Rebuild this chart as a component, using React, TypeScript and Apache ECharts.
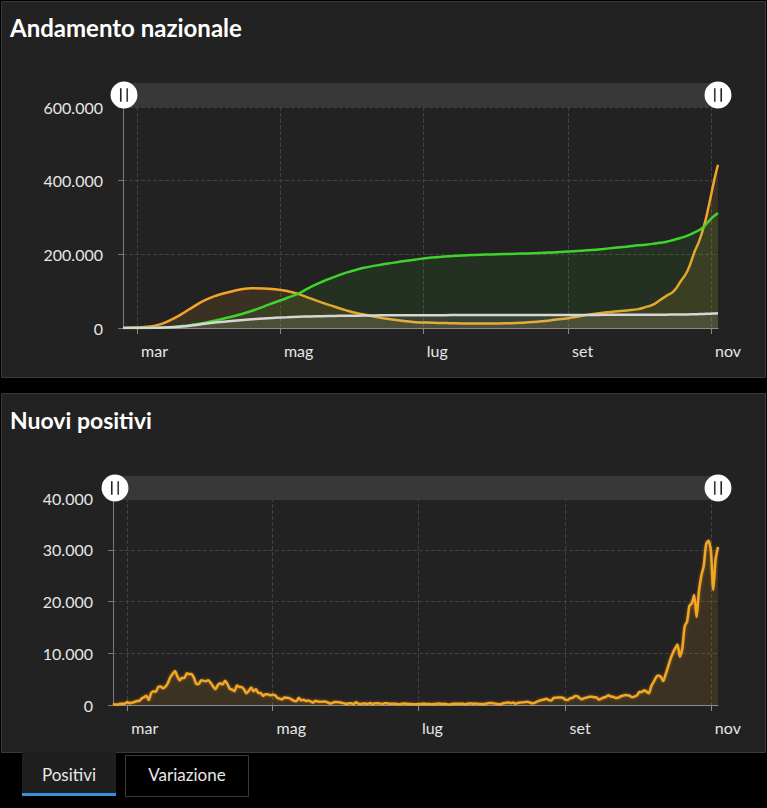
import React, { useEffect, useRef } from 'react';
import * as echarts from 'echarts';

// ---- Data: "Andamento nazionale" (sampled dates) ----
const topDates = [
  '2020-02-24', '2020-02-29', '2020-03-05', '2020-03-10', '2020-03-15', '2020-03-20', '2020-03-25', '2020-03-30',
  '2020-04-04', '2020-04-09', '2020-04-14', '2020-04-19', '2020-04-24', '2020-04-29', '2020-05-04', '2020-05-09',
  '2020-05-14', '2020-05-19', '2020-05-24', '2020-05-29', '2020-06-03', '2020-06-08', '2020-06-13', '2020-06-18',
  '2020-06-23', '2020-06-28', '2020-07-03', '2020-07-08', '2020-07-13', '2020-07-18', '2020-07-23', '2020-07-28',
  '2020-08-02', '2020-08-07', '2020-08-12', '2020-08-17', '2020-08-22', '2020-08-27', '2020-09-01', '2020-09-06',
  '2020-09-11', '2020-09-16', '2020-09-21', '2020-09-26', '2020-10-01', '2020-10-04', '2020-10-07', '2020-10-10',
  '2020-10-13', '2020-10-16', '2020-10-19', '2020-10-22', '2020-10-25', '2020-10-27', '2020-10-29', '2020-10-31',
  '2020-11-02', '2020-11-03', '2020-11-04',
];
const attualmentePositivi = [
  221, 1049, 3296, 8514, 20603, 37860, 57521, 75528,
  88274, 96877, 104291, 107800, 107500, 105000, 100500, 92000,
  80500, 69000, 58500, 48500, 40000, 34200, 28000, 23200,
  18900, 15800, 14600, 13700, 13100, 12500, 12450, 12550,
  12500, 12950, 14081, 16014, 19195, 23035, 26754, 32078,
  37503, 41413, 45079, 47718, 51263, 56731, 62576, 74829,
  87193, 99266, 126237, 155442, 207000, 236684, 276457, 330000,
  390314, 418142, 443235,
];
const dimessiGuariti = [
  1, 50, 414, 1004, 2335, 5129, 9362, 14620,
  20996, 28470, 36500, 46500, 58000, 70000, 81500, 94000,
  111000, 125500, 138000, 149500, 159000, 166000, 171800, 176800,
  181600, 186000, 189800, 192600, 194900, 196800, 198192, 199300,
  200229, 200976, 201947, 203100, 204400, 205800, 207653, 209610,
  211885, 214645, 217716, 220665, 224417, 225986, 228376, 231217,
  234099, 239000, 244500, 251000, 259456, 266203, 275404, 289426,
  302275, 307378, 312339,
];
const deceduti = [
  7, 29, 148, 631, 1809, 4032, 7503, 11591,
  15362, 18279, 21067, 23660, 25969, 27682, 29079, 30395,
  31368, 32169, 32735, 33142, 33530, 33899, 34301, 34514,
  34675, 34738, 34818, 34899, 34967, 35028, 35092, 35112,
  35154, 35190, 35225, 35405, 35430, 35463, 35491, 35541,
  35597, 35658, 35738, 35818, 35918, 35968, 36030, 36111,
  36246, 36427, 36616, 36968, 37338, 37700, 38122, 38618,
  39059, 39412, 39764,
];

// ---- Data: "Nuovi positivi" (daily, from 2020-02-24) ----
const nuoviStart = '2020-02-24';
const nuoviFeb = [221, 93, 78, 250, 238, 240];
const nuoviMar = [566, 342, 466, 587, 769, 778, 1247, 1492, 1797, 977, 2313, 2651, 2547, 3497, 3590, 3233, 3526, 4207, 5322, 5986, 6557, 5560, 4789, 5249, 5210, 6153, 5959, 5974, 5217, 4050, 4053];
const nuoviApr = [4782, 4668, 4585, 4805, 4316, 3599, 3039, 3836, 4204, 3951, 4694, 4092, 3153, 2972, 2667, 3786, 3493, 3491, 3047, 2256, 2729, 3370, 2646, 3021, 2357, 2324, 1739, 2091, 2086, 1872];
const nuoviMag = [1965, 1900, 1389, 1221, 1075, 1444, 1401, 1327, 1083, 802, 744, 1402, 888, 992, 789, 875, 675, 451, 813, 665, 642, 652, 669, 531, 300, 397, 584, 593, 516, 416, 355];
const nuoviGiu = [178, 318, 321, 177, 518, 270, 197, 280, 283, 202, 379, 163, 346, 338, 301, 210, 329, 333, 251, 262, 224, 218, 122, 190, 296, 259, 175, 174, 126, 142];
const nuoviLug = [187, 201, 223, 235, 192, 208, 138, 193, 229, 276, 188, 234, 169, 114, 162, 230, 233, 249, 219, 218, 129, 282, 306, 252, 275, 255, 170, 181, 212, 289, 386];
const nuoviAgo = [379, 295, 239, 159, 190, 384, 402, 552, 347, 463, 259, 412, 481, 523, 574, 629, 479, 320, 403, 642, 845, 947, 1071, 1210, 953, 878, 1367, 1411, 1462, 1444, 1365];
const nuoviSet = [996, 978, 1326, 1397, 1733, 1695, 1297, 1108, 1370, 1434, 1597, 1616, 1501, 1456, 1008, 1229, 1452, 1585, 1907, 1638, 1587, 1350, 1392, 1640, 1786, 1912, 1869, 1766, 1494, 1648];
const nuoviOtt = [1851, 2548, 2499, 2844, 2578, 2257, 3678, 4458, 5372, 5724, 5456, 4619, 5901, 7332, 8804, 10010, 10925, 11705, 9338, 10874, 15199, 16079, 19143, 19644, 21273, 17012, 21994, 24991, 26831, 31084, 31758];
const nuoviNov = [29907, 22253, 28244, 30550];
const nuoviPositivi = [
  ...nuoviFeb, ...nuoviMar, ...nuoviApr, ...nuoviMag, ...nuoviGiu,
  ...nuoviLug, ...nuoviAgo, ...nuoviSet, ...nuoviOtt, ...nuoviNov,
];

// ---- Axis ticks ----
const axisStart = '2020-02-24';
const axisEnd = '2020-11-04';
const tickDates = ['2020-03-01', '2020-05-01', '2020-07-01', '2020-09-01', '2020-11-01'];
const tickLabels = ['mar', 'mag', 'lug', 'set', 'nov'];
const topYMax = 600000;
const topYStep = 200000;
const bottomYMax = 40000;
const bottomYStep = 10000;

function ts(s: string): number {
  const [y, m, d] = s.split('-').map(Number);
  return new Date(y, m - 1, d).getTime();
}
function fmtIt(v: number): string {
  return String(Math.round(v)).replace(/\B(?=(\d{3})+(?!\d))/g, '.');
}

const FONT = 'Lato';
const TXT = '#e6e6e6';
const tickValues = tickDates.map(ts);
function labelFor(v: number): string {
  let best = 0;
  let bd = Infinity;
  tickValues.forEach((t, i) => {
    const d = Math.abs(t - v);
    if (d < bd) { bd = d; best = i; }
  });
  return tickLabels[best];
}

const HANDLE =
  'path://M0,-10A10,10,0,1,1,0,10A10,10,0,1,1,0,-10Z M-3,-5L-3,5L-1.8,5L-1.8,-5Z M1.8,-5L1.8,5L3,5L3,-5Z';

function xAxis(gridIndex: number) {
  return {
    type: 'value',
    gridIndex,
    min: ts(axisStart),
    max: ts(axisEnd),
    axisLine: { show: true, onZero: false, lineStyle: { color: '#8a8a8a', width: 1 } },
    axisTick: { show: true, customValues: tickValues, length: 6, lineStyle: { color: '#8a8a8a' } },
    axisLabel: {
      customValues: tickValues,
      formatter: (v: number) => labelFor(v),
      color: TXT,
      fontSize: 16,
      fontFamily: FONT,
      align: 'left',
      padding: [0, 0, 0, 4],
      margin: 14,
    },
    splitLine: { show: true, lineStyle: { color: '#414141', type: 'dashed', width: 1 } },
  };
}
function yAxis(gridIndex: number, max: number, step: number) {
  return {
    type: 'value',
    gridIndex,
    min: 0,
    max,
    interval: step,
    axisLine: { show: true, lineStyle: { color: '#7a7a7a' } },
    axisTick: { show: true, length: 5, lineStyle: { color: '#7a7a7a' } },
    axisLabel: { formatter: (v: number) => fmtIt(v), color: TXT, fontSize: 16, fontFamily: FONT, margin: 20 },
    splitLine: { show: true, lineStyle: { color: '#414141', type: 'dashed', width: 1 } },
  };
}
function slider(xAxisIndex: number, left: number, top: number, width: number) {
  return {
    type: 'slider',
    xAxisIndex,
    left,
    top,
    width,
    height: 24,
    start: 0,
    end: 100,
    showDetail: false,
    showDataShadow: false,
    brushSelect: false,
    moveHandleSize: 0,
    backgroundColor: '#323232',
    fillerColor: 'rgba(255,255,255,0.03)',
    borderColor: 'transparent',
    handleIcon: HANDLE,
    handleSize: '112%',
    handleStyle: { color: '#ffffff', borderColor: '#ffffff', borderWidth: 0 },
    dataBackground: { lineStyle: { opacity: 0 }, areaStyle: { opacity: 0 } },
  };
}

export default function App() {
  const ref = useRef<HTMLDivElement>(null);
  useEffect(() => {
    if (!ref.current) return;
    const chart = echarts.init(ref.current, null, { renderer: 'svg' });
    const start = new Date(ts(nuoviStart));
    const dailyData = nuoviPositivi.map((v, i) => [
      new Date(start.getFullYear(), start.getMonth(), start.getDate() + i).getTime(),
      v,
    ]);
    const topSeries = (vals: number[], line: string, fill: string, z: number) => ({
      type: 'line',
      xAxisIndex: 0,
      yAxisIndex: 0,
      data: topDates.map((d, i) => [ts(d), vals[i]]),
      smooth: 0.5,
      showSymbol: false,
      z,
      lineStyle: { color: line, width: 2.5 },
      areaStyle: { color: fill },
    });
    chart.setOption({
      animation: false,
      backgroundColor: '#000000',
      graphic: [
        { type: 'rect', z: -10, shape: { x: 1.5, y: 1.5, width: 764, height: 376 }, style: { fill: '#222222', stroke: '#3a3a3a', lineWidth: 1 } },
        { type: 'rect', z: -10, shape: { x: 1.5, y: 393.5, width: 764, height: 359 }, style: { fill: '#222222', stroke: '#3a3a3a', lineWidth: 1 } },
        { type: 'rect', z: -10, shape: { x: 22, y: 752, width: 94, height: 44 }, style: { fill: '#1f1f1f' } },
        { type: 'rect', z: -9, shape: { x: 22, y: 793, width: 94, height: 3 }, style: { fill: '#3a8fdf' } },
        { type: 'rect', z: -10, shape: { x: 125.5, y: 755.5, width: 123, height: 41 }, style: { fill: '#000000', stroke: '#3a3a3a', lineWidth: 1 } },
        { type: 'text', z: 10, x: 10, y: 27, style: { text: 'Andamento nazionale', fill: '#ffffff', fontSize: 24, fontWeight: 'bold', fontFamily: FONT, verticalAlign: 'middle' } },
        { type: 'text', z: 10, x: 10, y: 420, style: { text: 'Nuovi positivi', fill: '#ffffff', fontSize: 23, fontWeight: 'bold', fontFamily: FONT, verticalAlign: 'middle' } },
        { type: 'text', z: 10, x: 69, y: 774, style: { text: 'Positivi', fill: '#e8e8e8', fontSize: 17, fontFamily: FONT, align: 'center', verticalAlign: 'middle' } },
        { type: 'text', z: 10, x: 187, y: 774, style: { text: 'Variazione', fill: '#e8e8e8', fontSize: 17, fontFamily: FONT, align: 'center', verticalAlign: 'middle' } },
      ],
      grid: [
        { left: 123, top: 107, width: 595, height: 221 },
        { left: 113, top: 498, width: 605, height: 207 },
      ],
      xAxis: [xAxis(0), xAxis(1)],
      yAxis: [yAxis(0, topYMax, topYStep), yAxis(1, bottomYMax, bottomYStep)],
      dataZoom: [slider(0, 122, 83, 596), slider(1, 113, 476, 605)],
      series: [
        topSeries(attualmentePositivi, '#f2a52a', 'rgba(242,165,42,0.16)', 3),
        topSeries(dimessiGuariti, '#3fd42c', 'rgba(70,200,40,0.13)', 4),
        topSeries(deceduti, '#d6d6d6', 'rgba(220,220,210,0.16)', 5),
        {
          type: 'line',
          xAxisIndex: 1,
          yAxisIndex: 1,
          data: dailyData,
          showSymbol: false,
          smooth: 0.2,
          lineStyle: { color: '#f5a623', width: 2.5, shadowColor: 'rgba(245,166,35,0.45)', shadowBlur: 3 },
          areaStyle: { color: 'rgba(245,166,35,0.17)' },
        },
      ],
    });
    return () => chart.dispose();
  }, []);
  return (
    <div
      ref={ref}
      style={{ position: 'absolute', left: 0, top: 0, width: 767, height: 808 }}
    />
  );
}
